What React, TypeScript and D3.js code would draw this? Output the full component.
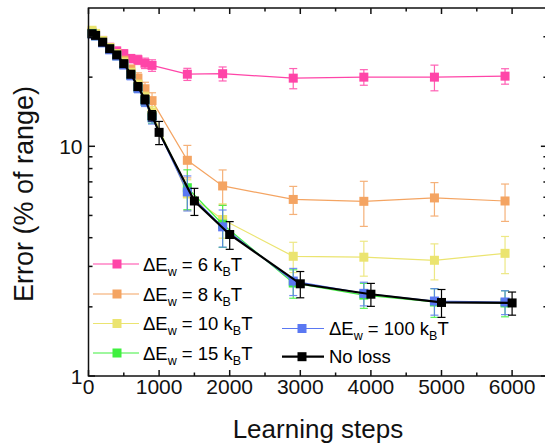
import React from 'react';
import * as d3 from 'd3';

// learning steps
const stepsLoss = [50, 100, 200, 300, 400, 500, 600, 700, 800, 900, 1400, 1900, 2900, 3900, 4900, 5900];
const stepsNoLoss = [50, 100, 200, 300, 400, 500, 600, 700, 800, 900, 1000, 1500, 2000, 3000, 4000, 5000, 6000];

// error (% of range) and its spread
const err6 = [31.2, 30.5, 28.9, 27.0, 26.0, 25.3, 24.1, 23.8, 23.0, 22.5, 20.6, 20.7, 19.8, 20.0, 20.0, 20.2];
const sd6 = [0.8, 0.8, 0.8, 0.9, 1.0, 1.0, 1.0, 1.1, 1.2, 1.3, 1.25, 1.45, 2.0, 1.56, 2.56, 1.56];
const err8 = [31.4, 30.7, 28.8, 26.9, 25.3, 23.7, 21.6, 19.8, 17.8, 15.8, 8.69, 6.72, 5.87, 5.76, 5.96, 5.78];
const sd8 = [0.9, 0.8, 0.8, 0.8, 0.9, 0.9, 1.0, 1.1, 1.2, 1.3, 1.4, 1.17, 0.82, 1.28, 0.99, 1.07];
const err10 = [32.0, 31.0, 28.9, 26.9, 25.3, 23.3, 21.0, 18.6, 16.4, 14.1, 6.2, 4.8, 3.32, 3.29, 3.19, 3.42];
const sd10 = [0.9, 0.9, 0.8, 0.8, 0.8, 0.8, 0.8, 0.8, 0.8, 0.8, 0.95, 0.82, 0.5, 0.57, 0.57, 0.63];
const err15 = [31.0, 30.3, 28.3, 26.4, 24.8, 22.7, 20.4, 18.0, 15.8, 13.4, 6.6, 4.58, 2.54, 2.25, 2.1, 2.08];
const sd15 = [0.8, 0.8, 0.8, 0.8, 0.8, 0.8, 0.8, 0.8, 0.8, 0.8, 1.3, 0.95, 0.36, 0.28, 0.3, 0.27];
const err100 = [30.8, 30.2, 28.2, 26.3, 24.7, 22.6, 20.3, 17.9, 15.7, 13.3, 6.33, 4.46, 2.59, 2.29, 2.12, 2.1];
const sd100 = [0.8, 0.8, 0.8, 0.8, 0.8, 0.8, 0.8, 0.8, 0.8, 0.8, 1.1, 0.82, 0.35, 0.27, 0.28, 0.25];
const errNoLoss = [30.9, 30.4, 28.4, 26.6, 25.0, 22.9, 20.6, 18.2, 16.0, 13.6, 11.5, 5.78, 4.13, 2.52, 2.27, 2.09, 2.08];
const sdNoLoss = [0.9, 0.8, 0.8, 0.7, 0.7, 0.7, 0.7, 0.7, 0.7, 0.7, 1.33, 0.78, 0.57, 0.33, 0.26, 0.29, 0.24];

const legendNames = ['6', '8', '10', '15', '100'];
const xTicks = [0, 1000, 2000, 3000, 4000, 5000, 6000];
const xMinorTicks = [500, 1500, 2500, 3500, 4500, 5500];
const yTicks = [1, 10];
const yMinorTicks = [2, 3, 4, 5, 6, 7, 8, 9, 20, 30];

const font = 'Arial, "Liberation Sans", sans-serif';

const series = [
  { name: legendNames[0], xs: stepsLoss, ys: err6, sd: sd6, color: '#ff45a8', width: 1.2 },
  { name: legendNames[1], xs: stepsLoss, ys: err8, sd: sd8, color: '#f4a462', width: 1.2 },
  { name: legendNames[2], xs: stepsLoss, ys: err10, sd: sd10, color: '#ebe470', width: 1.2 },
  { name: legendNames[3], xs: stepsLoss, ys: err15, sd: sd15, color: '#3ff03f', width: 1.2 },
  { name: legendNames[4], xs: stepsLoss, ys: err100, sd: sd100, color: '#5a78f2', width: 1.2 },
  { name: 'No loss', xs: stepsNoLoss, ys: errNoLoss, sd: sdNoLoss, color: '#000000', width: 2.2 },
];

const Label = ({ x, y, n }: { x: number; y: number; n: string }) => (
  <text x={x} y={y} fontSize={18.5} fontFamily={font}>
    ΔE<tspan fontSize={12.5} dy={5}>w</tspan>
    <tspan dy={-5}>{` = ${n} k`}</tspan>
    <tspan fontSize={12.5} dy={5}>B</tspan>
    <tspan dy={-5}>T</tspan>
  </text>
);

export default function App() {
  const W = 545;
  const H = 447;
  const x = d3.scaleLinear().domain([0, 6500]).range([88.5, 547.4]);
  const y = d3.scaleLog().domain([1, 40]).range([376, 8]);
  const left = x(0);
  const right = x(6500);
  const top = y(40);
  const bottom = y(1);
  const ms = 9; // marker size

  const line = d3.line<[number, number]>().x(d => x(d[0])).y(d => y(d[1]));

  const drawSeries = (s: typeof series[number], i: number) => {
    const pts = s.xs.map((v, k) => [v, s.ys[k]] as [number, number]);
    return (
      <g key={i}>
        <path d={line(pts) || ''} fill="none" stroke={s.color} strokeWidth={s.width} />
        {pts.map((p, k) => {
          const cx = x(p[0]);
          const y0 = y(p[1] - s.sd[k]);
          const y1 = y(p[1] + s.sd[k]);
          return (
            <g key={k} stroke={s.color} strokeWidth={1.2} opacity={s.color === '#000000' ? 1 : 0.85}>
              <line x1={cx} x2={cx} y1={y0} y2={y1} />
              <line x1={cx - 4} x2={cx + 4} y1={y0} y2={y0} />
              <line x1={cx - 4} x2={cx + 4} y1={y1} y2={y1} />
            </g>
          );
        })}
        {pts.map((p, k) => (
          <rect key={'m' + k} x={x(p[0]) - ms / 2} y={y(p[1]) - ms / 2} width={ms} height={ms} fill={s.color} />
        ))}
      </g>
    );
  };

  const legendLeft = [264, 294, 323.5, 353];
  const legendRight = [328.5, 356.7];

  return (
    <div style={{ position: 'absolute', left: 0, top: 0 }}>
      <svg width={W} height={H} viewBox={`0 0 ${W} ${H}`} style={{ display: 'block', background: '#fff' }}>
        {series.map(drawSeries)}

        {/* frame */}
        <g stroke="#111" strokeWidth={1.5} fill="none">
          <rect x={left} y={top} width={right - left} height={bottom - top} />
          {xTicks.map(t => (
            <g key={'xt' + t}>
              <line x1={x(t)} x2={x(t)} y1={bottom} y2={bottom - 6} />
              <line x1={x(t)} x2={x(t)} y1={top} y2={top + 6} />
            </g>
          ))}
          {xMinorTicks.map(t => (
            <g key={'xm' + t}>
              <line x1={x(t)} x2={x(t)} y1={bottom} y2={bottom - 3.5} />
              <line x1={x(t)} x2={x(t)} y1={top} y2={top + 3.5} />
            </g>
          ))}
          {yTicks.map(t => (
            <g key={'yt' + t}>
              <line x1={left} x2={left + 6.5} y1={y(t)} y2={y(t)} />
              <line x1={right} x2={right - 6.5} y1={y(t)} y2={y(t)} />
            </g>
          ))}
          {yMinorTicks.map(t => (
            <g key={'ym' + t}>
              <line x1={left} x2={left + 4} y1={y(t)} y2={y(t)} />
              <line x1={right} x2={right - 4} y1={y(t)} y2={y(t)} />
            </g>
          ))}
        </g>

        {/* tick labels */}
        <g fontFamily={font} fontSize={21} fill="#111">
          {xTicks.map(t => (
            <text key={'xl' + t} x={x(t)} y={bottom + 18} textAnchor="middle">{t}</text>
          ))}
          {yTicks.map(t => (
            <text key={'yl' + t} x={left - 6} y={y(t) + 7.5} textAnchor="end">{t}</text>
          ))}
        </g>

        {/* axis titles */}
        <text x={(left + right) / 2} y={438} textAnchor="middle" fontFamily={font} fontSize={26} fill="#111">
          Learning steps
        </text>
        <text
          transform={`translate(33,${194}) rotate(-90)`}
          textAnchor="middle"
          fontFamily={font}
          fontSize={27}
          fill="#111"
        >
          Error (% of range)
        </text>

        {/* legend */}
        {series.slice(0, 4).map((s, i) => (
          <g key={'lg' + i}>
            <line x1={93} x2={139} y1={legendLeft[i]} y2={legendLeft[i]} stroke={s.color} strokeWidth={s.width} />
            <rect x={117 - ms / 2} y={legendLeft[i] - ms / 2} width={ms} height={ms} fill={s.color} />
            <Label x={143} y={legendLeft[i] + 6.6} n={s.name} />
          </g>
        ))}
        {series.slice(4).map((s, i) => (
          <g key={'lr' + i}>
            <line x1={282} x2={324} y1={legendRight[i]} y2={legendRight[i]} stroke={s.color} strokeWidth={s.width} />
            <rect x={302 - ms / 2} y={legendRight[i] - ms / 2} width={ms} height={ms} fill={s.color} />
            {i === 0 ? (
              <Label x={329} y={legendRight[i] + 6.6} n={s.name} />
            ) : (
              <text x={329} y={legendRight[i] + 6.6} fontSize={18.5} fontFamily={font}>{s.name}</text>
            )}
          </g>
        ))}
      </svg>
    </div>
  );
}
